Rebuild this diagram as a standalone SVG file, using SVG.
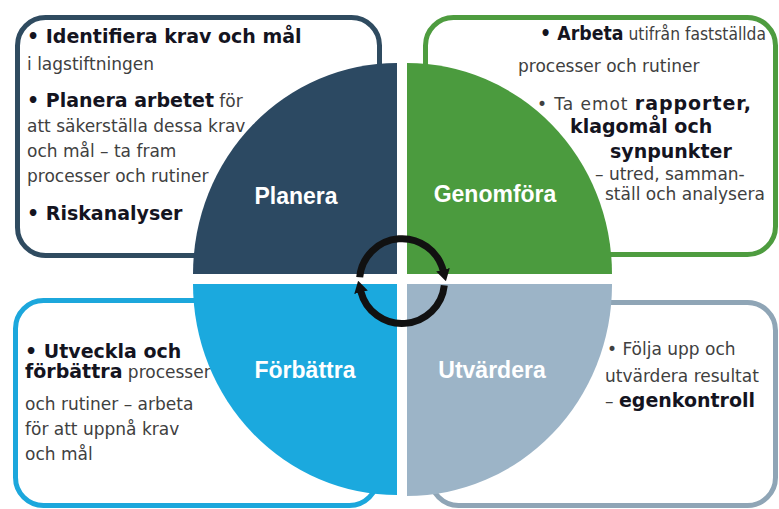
<svg xmlns="http://www.w3.org/2000/svg" width="779" height="509" viewBox="0 0 779 509">
<style>
.box{fill:#fff;stroke-width:5}
.t{font-family:"DejaVu Sans","Liberation Sans",sans-serif;font-size:17px;fill:#404040}
.b{font-weight:bold;font-size:19px;fill:#14141f}
.lbl{font-family:"Liberation Sans",Arial,sans-serif;font-weight:bold;font-size:23px;fill:#fff;text-anchor:middle}
.ring{fill:none;stroke:#111;stroke-width:7;marker-end:url(#ah)}
</style>
<defs>
<marker id="ah" markerUnits="userSpaceOnUse" viewBox="0 0 12 14" refX="1" refY="7" markerWidth="12" markerHeight="14" orient="auto">
<path d="M0,0 L12,7 L0,14 Z" fill="#111"/>
</marker>
</defs>
<rect width="779" height="509" fill="#fff"/>

<g id="planera">
<rect class="box" x="17.5" y="17.5" width="362" height="238" rx="28" stroke="#2f4b60"/>
<text class="t" x="27" y="43"><tspan class="b">• Identifiera krav och mål</tspan></text>
<text class="t" x="27" y="70">i lagstiftningen</text>
<text class="t" x="27" y="107"><tspan class="b">• Planera arbetet</tspan> för</text>
<text class="t" x="27" y="132">att säkerställa dessa krav</text>
<text class="t" x="27" y="157">och mål – ta fram</text>
<text class="t" x="27" y="182">processer och rutiner</text>
<text class="t" x="27" y="220"><tspan class="b">• Riskanalyser</tspan></text>
<path d="M397,274 H193 A204,211 0 0 1 397,63 Z" fill="#2c4962"/>
<text class="lbl" x="296" y="204">Planera</text>
</g>

<g id="genomfora">
<rect class="box" x="425.5" y="17.5" width="350" height="237" rx="28" stroke="#4e9c3f"/>
<text class="t" x="540" y="40" textLength="226" lengthAdjust="spacingAndGlyphs"><tspan class="b">• Arbeta</tspan> utifrån fastställda</text>
<text class="t" x="518" y="72">processer och rutiner</text>
<text class="t" x="537" y="110" textLength="214">• Ta emot <tspan class="b">rapporter,</tspan></text>
<text class="t" x="570" y="133"><tspan class="b">klagomål och</tspan></text>
<text class="t" x="610" y="158"><tspan class="b">synpunkter</tspan></text>
<text class="t" x="595" y="180">– utred, samman-</text>
<text class="t" x="605" y="200">ställ och analysera</text>
<path d="M407,274 V63 A205,211 0 0 1 612,274 Z" fill="#4b9b3e"/>
<text class="lbl" x="495" y="202">Genomföra</text>
</g>

<g id="forbattra">
<rect class="box" x="15.5" y="300.5" width="362" height="205" rx="28" stroke="#1ca7dc"/>
<text class="t" x="25" y="358"><tspan class="b">• Utveckla och</tspan></text>
<text class="t" x="25" y="378"><tspan class="b">förbättra</tspan> processer</text>
<text class="t" x="25" y="410">och rutiner – arbeta</text>
<text class="t" x="25" y="435">för att uppnå krav</text>
<text class="t" x="25" y="460">och mål</text>
<path d="M397,284 V495 A204,211 0 0 1 193,284 Z" fill="#1ba9de"/>
<text class="lbl" x="305" y="378">Förbättra</text>
</g>

<g id="utvardera">
<rect class="box" x="430.5" y="302.5" width="345" height="203" rx="28" stroke="#8fa5b6"/>
<text class="t" x="607" y="355">• Följa upp och</text>
<text class="t" x="605" y="382">utvärdera resultat</text>
<text class="t" x="605" y="407">– <tspan class="b">egenkontroll</tspan></text>
<path d="M407,284 H612 A205,211 0 0 1 407,496 Z" fill="#9cb4c7"/>
<text class="lbl" x="492" y="378">Utvärdera</text>
</g>

<g id="connectors">
<path class="ring" d="M359.7,277.3 A42.5,42.5 0 0 1 443.2,270.7"/>
<path class="ring" d="M444.3,285.4 A42.5,42.5 0 0 1 360.8,291.3"/>
</g>
</svg>
